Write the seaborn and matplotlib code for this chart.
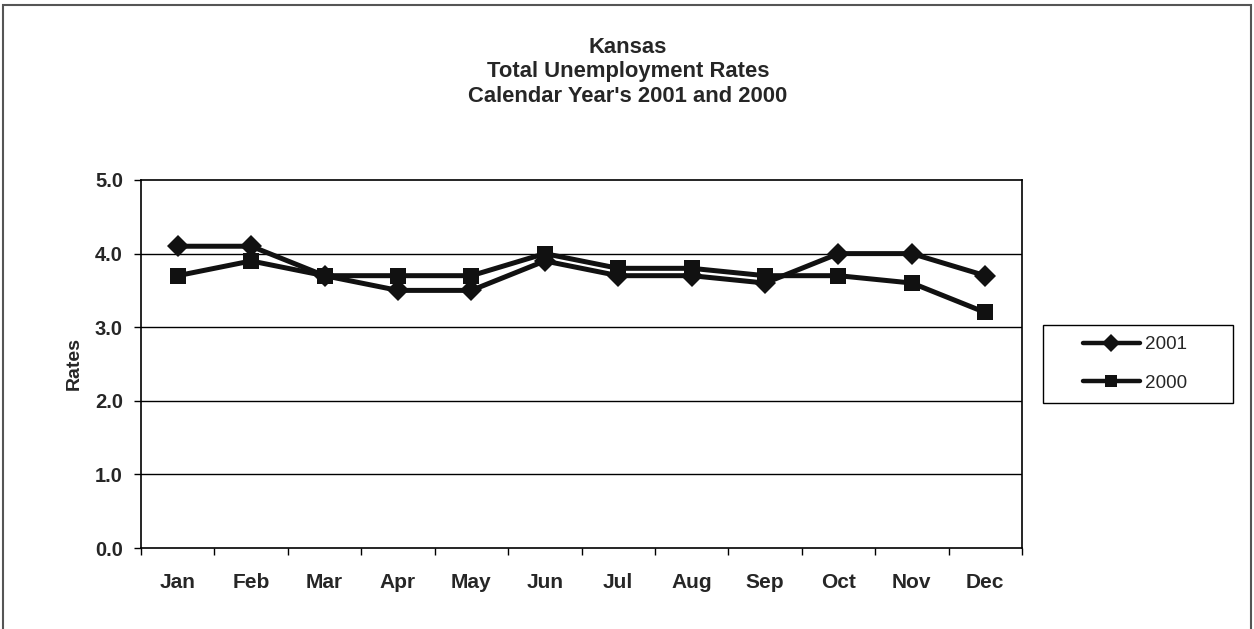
import matplotlib
matplotlib.use("Agg")
import matplotlib.pyplot as plt
from matplotlib.patches import Rectangle
import numpy as np
import pandas as pd
import seaborn as sns

months = ["Jan", "Feb", "Mar", "Apr", "May", "Jun", "Jul", "Aug", "Sep", "Oct", "Nov", "Dec"]
rates_2001 = [4.1, 4.1, 3.7, 3.5, 3.5, 3.9, 3.7, 3.7, 3.6, 4.0, 4.0, 3.7]
rates_2000 = [3.7, 3.9, 3.7, 3.7, 3.7, 4.0, 3.8, 3.8, 3.7, 3.7, 3.6, 3.2]
y_ticks = [0.0, 1.0, 2.0, 3.0, 4.0, 5.0]

df = pd.DataFrame({
    "Month": months * 2,
    "pos": list(range(len(months))) * 2,
    "Rate": rates_2001 + rates_2000,
    "Year": ["2001"] * len(months) + ["2000"] * len(months),
})

sns.set_theme(style="white")
plt.rcParams["font.family"] = ["Liberation Sans", "DejaVu Sans"]

W, H = 1254, 629
fig = plt.figure(figsize=(W / 100, H / 100), dpi=100)
ax = fig.add_axes([141 / W, 1 - 548 / H, (1022 - 141) / W, (548 - 180) / H])

# outer frame around the whole chart
fig.patches.append(Rectangle((3 / W, -0.01), 1248 / W, 1 - 5 / H + 0.01,
                             transform=fig.transFigure, fill=False,
                             edgecolor="#555555", linewidth=1.5))

sns.lineplot(data=df, x="pos", y="Rate", hue="Year", style="Year",
             hue_order=["2001", "2000"], style_order=["2001", "2000"],
             palette=["#111111", "#111111"], markers={"2001": "D", "2000": "s"},
             dashes=False, linewidth=3.6, markersize=11.5, markeredgewidth=0,
             ax=ax, legend=True)

ax.set_xlim(-0.5, len(months) - 0.5)
ax.set_ylim(0, 5)
ax.set_yticks(y_ticks)
ax.set_yticklabels([f"{v:.1f}" for v in y_ticks], fontsize=14.5, fontweight="bold")
ax.set_xticks(np.arange(len(months)))
ax.set_xticklabels(months, fontsize=15, fontweight="bold")
ax.set_xticks(np.arange(-0.5, len(months)), minor=True)
ax.tick_params(axis="x", which="major", length=0, pad=18)
ax.tick_params(axis="x", which="minor", length=5, width=1, direction="out", color="black", bottom=True)
ax.tick_params(axis="y", length=5, width=1, direction="out", color="black", left=True, pad=8)
ax.set_xlabel("")
ax.set_ylabel("Rates", fontsize=14, fontweight="bold", labelpad=9)

for v in y_ticks[1:-1]:
    ax.axhline(v, color="black", linewidth=1, zorder=0)
for s in ax.spines.values():
    s.set_color("black")
    s.set_linewidth(1.2)

fig.text(628 / W, 1 - 72 / H, "Kansas\nTotal Unemployment Rates\nCalendar Year's 2001 and 2000",
         ha="center", va="center", fontsize=15.8, fontweight="bold", linespacing=1.2)

# legend entries, with a separate frame box
leg = ax.legend(loc="center left", bbox_to_anchor=(1083 / W, 1 - 364 / H),
                bbox_transform=fig.transFigure, frameon=False, borderpad=0,
                borderaxespad=0, fontsize=13.6, handlelength=3.0,
                handletextpad=0.3, labelspacing=1.12)
for h in leg.legend_handles:
    h.set_markersize(9)
    h.set_linewidth(3.2)
fig.patches.append(Rectangle((1043 / W, 1 - 403 / H), 190 / W, 78 / H,
                             transform=fig.transFigure, fill=False,
                             edgecolor="black", linewidth=1))

fig.savefig("out.png", dpi=100, facecolor="white")
